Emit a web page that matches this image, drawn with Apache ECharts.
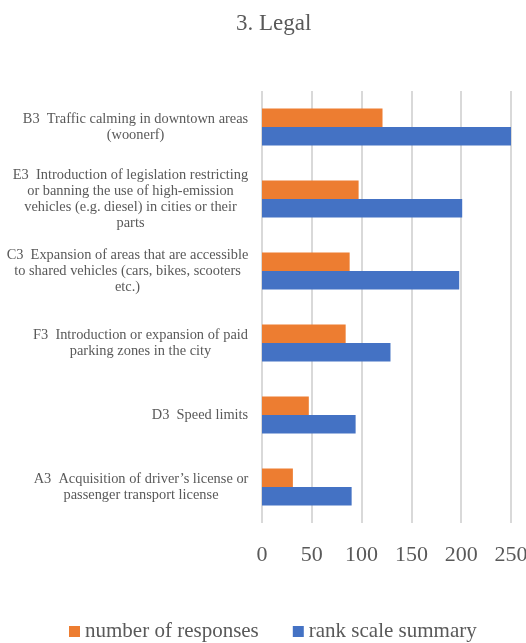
<!DOCTYPE html>
<html>
<head>
<meta charset="utf-8">
<script src="https://cdn.jsdelivr.net/npm/echarts@6/dist/echarts.min.js"></script>
<style>
  html, body { margin: 0; padding: 0; background: #fff; }
  #chart { width: 526px; height: 643px; }
</style>
</head>
<body>
<div id="chart"></div>
<script>
// categories listed top to bottom as in the picture
const categories = [
  'B3  Traffic calming in downtown areas\n(woonerf)',
  'E3  Introduction of legislation restricting\nor banning the use of high-emission\nvehicles (e.g. diesel) in cities or their\nparts',
  'C3  Expansion of areas that are accessible\nto shared vehicles (cars, bikes, scooters\netc.)',
  'F3  Introduction or expansion of paid\nparking zones in the city',
  'D3  Speed limits',
  'A3  Acquisition of driver\u2019s license or\npassenger transport license'
]
const responses = [121, 97, 88, 84, 47, 31]
const rankSummary = [251, 201, 198, 129, 94, 90]
const xTicks = [0, 50, 100, 150, 200, 250]

const serif = 'Liberation Serif'
const grey = '#595959'
const labelSize = 14.4

// Excel centres each line inside the label block and right-aligns the block,
// so give every category its own rich style as wide as its longest line
const ctx = document.createElement('canvas').getContext('2d')
ctx.font = labelSize + 'px ' + serif
const rich = {}
categories.forEach((c, i) => {
  const w = Math.max(...c.split('\n').map(l => ctx.measureText(l).width))
  rich['c' + i] = {
    width: Math.ceil(w) + 1,
    align: 'center',
    fontFamily: serif,
    fontSize: labelSize,
    lineHeight: 16,
    color: grey
  }
})

const chart = echarts.init(document.getElementById('chart'), null, { renderer: 'canvas' })

chart.setOption({
  animation: false,
  title: {
    text: '3. Legal',
    left: 231,
    top: 7,
    textStyle: { fontFamily: serif, fontSize: 23, fontWeight: 'normal', color: grey }
  },
  legend: {
    top: 616,
    left: 64,
    icon: 'rect',
    itemWidth: 11,
    itemHeight: 11,
    itemGap: 34,
    textStyle: { fontFamily: serif, fontSize: 21, color: grey },
    data: ['number of responses', 'rank scale summary']
  },
  grid: {
    left: 262,
    right: 15,
    top: 91,
    bottom: 120,
    containLabel: false,
    outerBoundsMode: 'none'
  },
  xAxis: {
    type: 'value',
    min: xTicks[0],
    max: xTicks[xTicks.length - 1],
    interval: 50,
    axisLine: { show: false },
    axisTick: { show: false },
    axisLabel: { fontFamily: serif, fontSize: 22, color: grey, margin: 21 },
    splitLine: { lineStyle: { color: '#d9d9d9', width: 2 } }
  },
  yAxis: {
    type: 'category',
    inverse: true,
    data: categories,
    axisLine: { show: false },
    axisTick: { show: false },
    axisLabel: {
      margin: 13,
      align: 'right',
      rich: rich,
      formatter: (value, idx) => value.split('\n').map(l => '{c' + idx + '|' + l + '}').join('\n')
    }
  },
  series: [
    {
      name: 'number of responses',
      type: 'bar',
      data: responses,
      barWidth: 18.5,
      barGap: '0%',
      itemStyle: { color: '#ED7D31' }
    },
    {
      name: 'rank scale summary',
      type: 'bar',
      data: rankSummary,
      barWidth: 18.5,
      barGap: '0%',
      itemStyle: { color: '#4472C4' }
    }
  ]
})
</script>
</body>
</html>
